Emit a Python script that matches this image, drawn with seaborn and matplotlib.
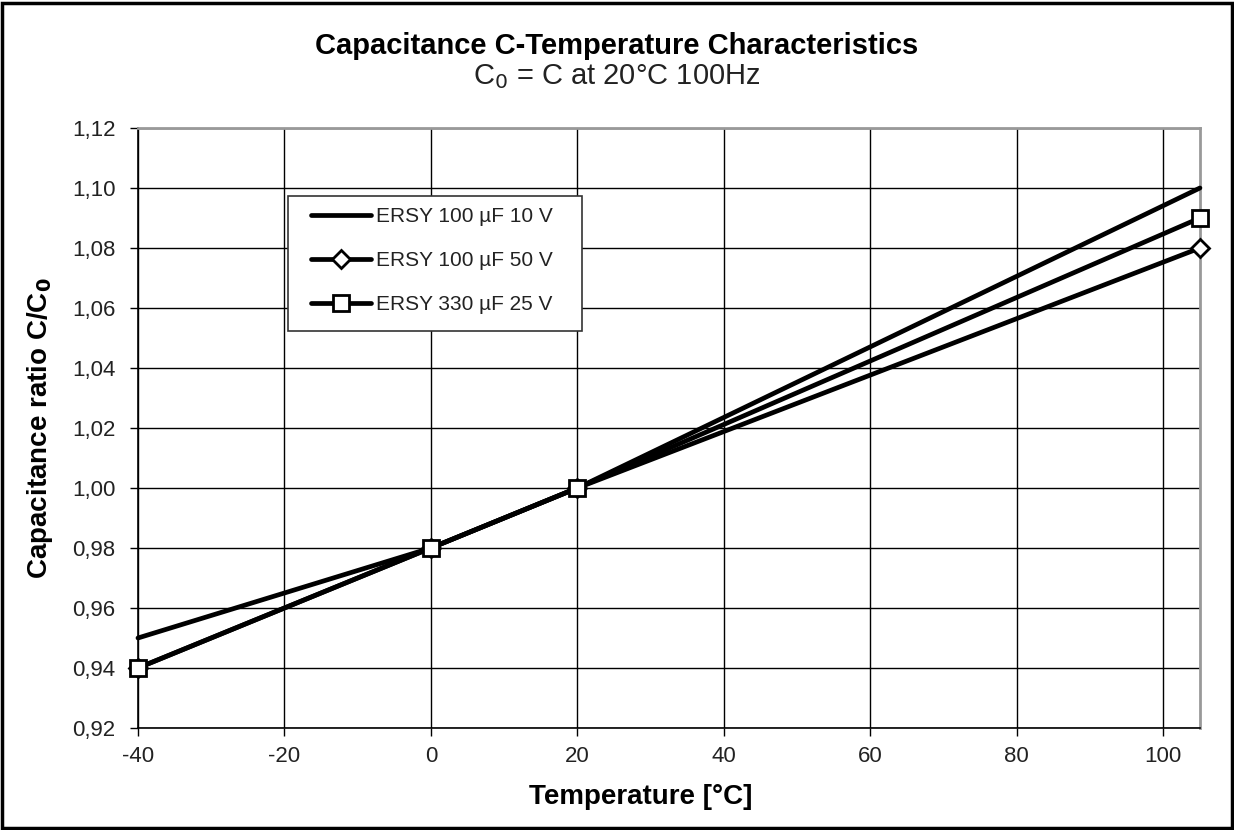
import matplotlib
matplotlib.use("Agg")
import matplotlib.pyplot as plt
import seaborn as sns
import pandas as pd
from matplotlib.ticker import FuncFormatter, MultipleLocator
from matplotlib.patches import Rectangle

temps = [-40, 0, 20, 105]
s_10v = [0.95, 0.98, 1.00, 1.10]
s_50v = [0.94, 0.98, 1.00, 1.08]
s_25v = [0.94, 0.98, 1.00, 1.09]
names = ["ERSY 100 µF 10 V", "ERSY 100 µF 50 V", "ERSY 330 µF 25 V"]

sns.set_theme(style="white")
plt.rcParams['font.family'] = ['Liberation Sans', 'DejaVu Sans']

fig = plt.figure(figsize=(12.34, 8.3), dpi=100)
ax = fig.add_axes([0.1118, 0.1229, 0.8606, 0.7229])

series = [(s_10v, None, 0), (s_50v, "D", 9), (s_25v, "s", 11)]
for (vals, mk, ms), name in zip(series, names):
    df = pd.DataFrame({"T": temps, "C": vals})
    kw = dict(marker=mk, markersize=ms, markerfacecolor="white",
              markeredgecolor="black", markeredgewidth=2.0) if mk else {}
    sns.lineplot(data=df, x="T", y="C", ax=ax, color="black", linewidth=3.4,
                 label=name, clip_on=False, zorder=5, **kw)

ax.set_xlim(-40, 105)
ax.set_ylim(0.92, 1.12)
ax.xaxis.set_major_locator(MultipleLocator(20))
ax.yaxis.set_major_locator(MultipleLocator(0.02))
ax.yaxis.set_major_formatter(FuncFormatter(lambda v, p: f"{v:.2f}".replace(".", ",")))
ax.xaxis.set_major_formatter(FuncFormatter(lambda v, p: f"{v:.0f}"))
ax.grid(True, color="black", linewidth=1.0)
ax.tick_params(axis="both", direction="out", length=6, width=1, color="black",
               labelsize=16, labelcolor="#222222", left=True, bottom=True)
ax.tick_params(axis="y", pad=10)
ax.tick_params(axis="x", pad=7)
for s in ["left", "bottom"]:
    ax.spines[s].set_color("black")
    ax.spines[s].set_linewidth(1.2)
for s in ["top", "right"]:
    ax.spines[s].set_color("#999999")
    ax.spines[s].set_linewidth(2.0)

ax.set_xlabel("Temperature [°C]", fontsize=20, fontweight="bold", color="black")
ax.set_ylabel("Capacitance ratio C/C$_\\mathbf{0}$", fontsize=20, fontweight="bold", color="black")
ax.xaxis.set_label_coords(0.4736, -0.094)
ax.yaxis.set_label_coords(-0.078, 0.5)

# legend frame
ax.add_patch(Rectangle((0.1412, 0.6617), 0.2768, 0.225, transform=ax.transAxes,
                       facecolor="white", edgecolor="#333333", linewidth=1.2,
                       zorder=9))
leg = ax.legend(loc="upper left", bbox_to_anchor=(0.1629, 0.868), fontsize=15,
                frameon=False, handlelength=2.9, handletextpad=0.2,
                labelspacing=1.2, borderpad=0, borderaxespad=0)
leg.set_zorder(10)
for t in leg.get_texts():
    t.set_color("#222222")

fig.text(0.5, 0.945, "Capacitance C-Temperature Characteristics", ha="center", va="center",
         fontsize=21, fontweight="bold", color="black")
fig.text(0.5, 0.908, "C$_0$ = C at 20°C 100Hz", ha="center", va="center",
         fontsize=21, color="#222222")

fig.patches.append(Rectangle((0.002, 0.002), 0.996, 0.994, transform=fig.transFigure,
                             fill=False, edgecolor="black", linewidth=2.5))

fig.savefig("out.png", dpi=100, facecolor="white")
